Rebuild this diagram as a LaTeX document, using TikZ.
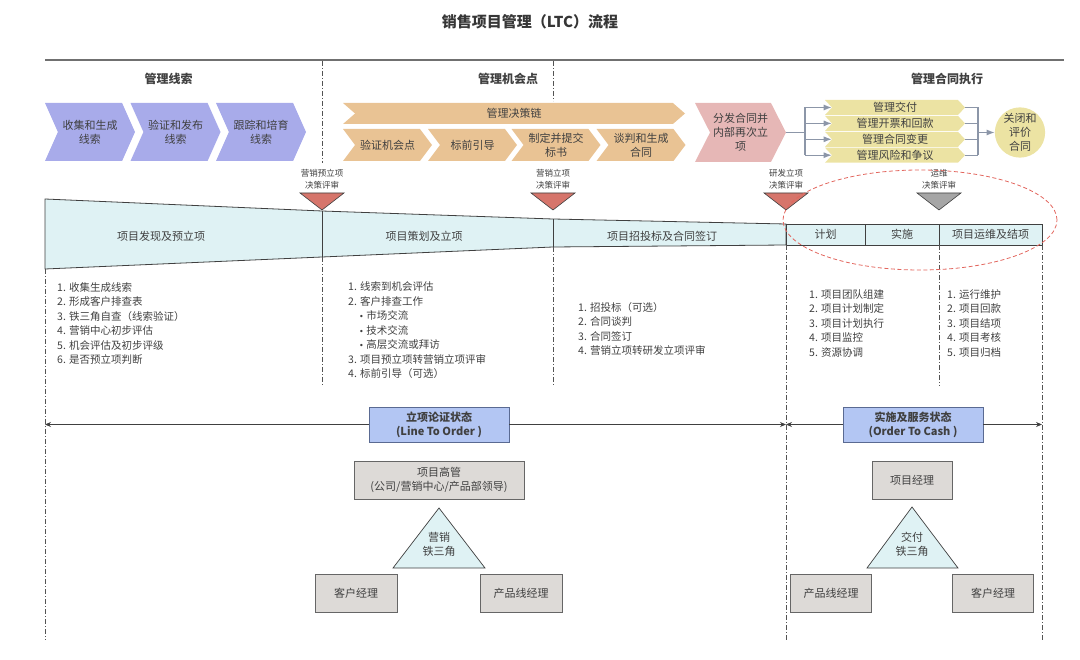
\documentclass[tikz,border=0pt]{standalone}
\usepackage{fontspec}
\setmainfont{Noto Sans CJK SC}
\newfontfamily\dotfont{DejaVu Sans}
\usepackage{tikz}
\usetikzlibrary{positioning, arrows.meta, shapes.symbols}
\definecolor{txt}{HTML}{404040}
\definecolor{chblue}{HTML}{A8ABEA}
\definecolor{chtan}{HTML}{E9C394}
\definecolor{chpink}{HTML}{E6B7B6}
\definecolor{chyel}{HTML}{ECE3A3}
\definecolor{bandc}{HTML}{DFF2F4}
\definecolor{revred}{HTML}{D6756B}
\definecolor{revgray}{HTML}{A6A6A6}
\definecolor{stblue}{HTML}{B3C6F3}
\definecolor{stedge}{HTML}{5A6A92}
\definecolor{boxgray}{HTML}{DDDAD7}
\definecolor{linkc}{HTML}{8C96A8}
\definecolor{ringred}{HTML}{E2665E}
\newcommand{\itemdot}{\hspace*{11pt}{\dotfont\fontsize{8}{10}\selectfont •}\ }

\begin{document}
\begin{tikzpicture}[x=1pt, y=-1pt,
        every node/.style={font=\fontsize{11}{14}\selectfont, text=txt},
        chev/.style={signal, signal to=east, signal from=west, fill=#1, inner sep=0pt, align=center},
        ychev/.style={chev=chyel, minimum width=140pt, minimum height=15pt, signal pointer angle=94},
        head/.style={font=\bfseries\fontsize{12}{14}\selectfont},
        bandline/.style={draw=txt, line width=0.8pt},
        cell/.style={draw=txt, line width=0.8pt, fill=bandc, minimum height=21pt, outer sep=0pt, inner sep=0pt},
        revlbl/.style={font=\fontsize{8.5}{12.5}\selectfont, align=center, inner sep=0pt},
        revmark/.style={draw=txt, line width=0.6pt, fill=#1},
        sep/.style={draw=txt!90, line width=0.7pt, dash pattern=on 5pt off 2pt on 1pt off 2pt},
        list/.style={align=left, inner sep=0pt, anchor=north west, font=\fontsize{10.5}{14.5}\selectfont},
        link/.style={draw=linkc, line width=1.1pt},
        linkarr/.style={link, -{Latex[length=8pt, width=6pt]}},
        state/.style={draw=stedge, fill=stblue, line width=0.8pt, minimum width=140pt, minimum height=35pt, align=center, font=\bfseries\fontsize{11}{14}\selectfont},
        statearr/.style={draw=txt, line width=0.8pt, -{Stealth[length=6pt, width=5pt]}},
        role/.style={draw=txt!80, fill=boxgray, line width=0.8pt, minimum height=38pt, align=center},
        iron/.style={draw=txt, fill=bandc, line width=0.7pt},
        ironlbl/.style={align=center, inner sep=0pt}
    ]
    \useasboundingbox (0,0) rectangle (1080,660);
%
    \node[font=\bfseries\fontsize{15}{18}\selectfont, text=txt!85!black] (title) at (530,22) {销售项目管理（LTC）流程};
    \draw[draw=txt!75, line width=1.4pt] (45,60) -- (1064,60);
%
    \node[head] (hdlead) at (168.5,79) {管理线索};
    \node[head] (hdopp) at (508,79) {管理机会点};
    \node[head] (hdexec) at (947,79) {管理合同执行};
%
    \draw[sep] (322,61) -- (322,163);
    \draw[sep] (553,61) -- (553,101);
%
    \node[chev=chblue, minimum width=90pt, minimum height=58pt, signal pointer angle=132] (lead1) at (90,132) {收集和生成\\线索};
    \node[chev=chblue, minimum width=90pt, minimum height=58pt, signal pointer angle=132] (lead2) at (175.5,132) {验证和发布\\线索};
    \node[chev=chblue, minimum width=90pt, minimum height=58pt, signal pointer angle=132] (lead3) at (261,132) {跟踪和培育\\线索};
%
    \node[chev=chtan, minimum width=342pt, minimum height=21pt, signal pointer angle=82] (chain) at (514,113.5) {管理决策链};
    \node[chev=chtan, minimum width=89pt, minimum height=32pt, signal pointer angle=106] (opp1) at (387.5,145) {验证机会点};
    \node[chev=chtan, minimum width=89pt, minimum height=32pt, signal pointer angle=106] (opp2) at (472.5,145) {标前引导};
    \node[chev=chtan, minimum width=89pt, minimum height=32pt, signal pointer angle=106] (opp3) at (556,145) {制定并提交\\标书};
    \node[chev=chtan, minimum width=89pt, minimum height=32pt, signal pointer angle=106] (opp4) at (641,145) {谈判和生成\\合同};
%
    \node[chev=chpink, minimum width=91pt, minimum height=59pt, signal pointer angle=126] (handoff) at (740.5,132.5) {分发合同并\\内部再次立\\项};
    \node[ychev] (yel1) at (895,107.5) {管理交付};
    \node[ychev, below=0.5pt of yel1] (yel2) {管理开票和回款};
    \node[ychev, below=0.5pt of yel2] (yel3) {管理合同变更};
    \node[ychev, below=0.5pt of yel3] (yel4) {管理风险和争议};
    \node[circle, fill=chyel, minimum size=47pt, inner sep=0pt, align=center] (close) at (1020,132.5) {关闭和\\评价\\合同};
%
    \coordinate (fork) at (805,132.5);
    \coordinate (join) at (978,132.5);
    \draw[link] (handoff.east) -- (fork);
    \draw[link] (fork |- yel1) -- (fork |- yel4);
    \draw[linkarr] (fork |- yel1) -- (yel1.west);
    \draw[linkarr] (fork |- yel2) -- (yel2.west);
    \draw[linkarr] (fork |- yel3) -- (yel3.west);
    \draw[linkarr] (fork |- yel4) -- (yel4.west);
    \draw[link] (yel1.east) -- (join |- yel1);
    \draw[link] (yel2.east) -- (join |- yel2);
    \draw[link] (yel3.east) -- (join |- yel3);
    \draw[link] (yel4.east) -- (join |- yel4);
    \draw[link] (join |- yel1) -- (join |- yel4);
    \draw[linkarr] (join) -- (close);
%
    \node[revlbl] (rev1) at (322,179.5) {营销预立项\\决策评审};
    \node[revlbl] (rev2) at (553,179.5) {营销立项\\决策评审};
    \node[revlbl] (rev3) at (786,179.5) {研发立项\\决策评审};
    \node[revlbl] (rev4) at (939,179.5) {运维\\决策评审};
    \draw[revmark=revred] (300,193) -- (344,193) -- (322,210) -- cycle;
    \draw[revmark=revred] (531,193) -- (575,193) -- (553,210) -- cycle;
    \draw[revmark=revred] (764,193) -- (808,193) -- (786,210) -- cycle;
    \draw[revmark=revgray] (917,193) -- (961,193) -- (939,210) -- cycle;
%
    \draw[bandline, fill=bandc] (45,199) -- (322,211) -- (553,219) -- (786,224) -- (786,245) -- (553,247) -- (322,257) -- (45,269) -- cycle;
    \draw[bandline] (322,211) -- (322,257);
    \draw[bandline] (553,219) -- (553,247);
    \node (phase1) at (161,236) {项目发现及预立项};
    \node (phase2) at (424,236) {项目策划及立项};
    \node (phase3) at (662,236) {项目招投标及合同签订};
    \node[cell, minimum width=79pt, anchor=west] (plan) at (786,234.5) {计划};
    \node[cell, minimum width=74pt, right=0pt of plan] (build) {实施};
    \node[cell, minimum width=103pt, right=0pt of build] (runop) {项目运维及结项};
%
    \draw[sep] (45,269) -- (45,640);
    \draw[sep] (322,257) -- (322,386);
    \draw[sep] (553,247) -- (553,386);
    \draw[sep] (786,245) -- (786,640);
    \draw[sep] (939,245) -- (939,386);
    \draw[sep] (1042,245) -- (1042,640);
%
    \node[list] (todo1) at (57,282) {1. 收集生成线索\\2. 形成客户排查表\\3. 铁三角自查（线索验证）\\4. 营销中心初步评估\\5. 机会评估及初步评级\\6. 是否预立项判断};
    \node[list] (todo2) at (348,281.5) {1. 线索到机会评估\\2. 客户排查工作\\\itemdot 市场交流\\\itemdot 技术交流\\\itemdot 高层交流或拜访\\3. 项目预立项转营销立项评审\\4. 标前引导（可选）};
    \node[list] (todo3) at (578,302) {1. 招投标（可选）\\2. 合同谈判\\3. 合同签订\\4. 营销立项转研发立项评审};
    \node[list] (todo4) at (809,289) {1. 项目团队组建\\2. 项目计划制定\\3. 项目计划执行\\4. 项目监控\\5. 资源协调};
    \node[list] (todo5) at (947,289) {1. 运行维护\\2. 项目回款\\3. 项目结项\\4. 项目考核\\5. 项目归档};
%
    \node[state] (lto) at (439,424.5) {立项论证状态\\(Line To Order )};
    \node[state] (otc) at (913,424.5) {实施及服务状态\\(Order To Cash )};
    \coordinate (leftend) at (45,424.5);
    \coordinate (midend) at (786,424.5);
    \coordinate (rightend) at (1042,424.5);
    \draw[statearr] (lto) -- (leftend);
    \draw[statearr] (lto) -- (midend);
    \draw[statearr] (otc) -- (midend);
    \draw[statearr] (otc) -- (rightend);
%
    \node[role, minimum width=170pt] (boss) at (439,480) {项目高管\\(公司/营销中心/产品部领导)};
    \draw[iron] (439,508) -- (485,568) -- (393,568) -- cycle;
    \node[ironlbl] (salestri) at (439,544) {营销\\铁三角};
    \node[role, minimum width=82pt] (acct1) at (356,593) {客户经理};
    \node[role, minimum width=82pt] (prod1) at (521,593) {产品线经理};
%
    \node[role, minimum width=80pt] (pm) at (912,480) {项目经理};
    \draw[iron] (912,507) -- (958,568) -- (867,568) -- cycle;
    \node[ironlbl] (delitri) at (912,544) {交付\\铁三角};
    \node[role, minimum width=81pt] (prod2) at (831,593) {产品线经理};
    \node[role, minimum width=81pt] (acct2) at (993,593) {客户经理};
%
    \draw[draw=ringred, line width=0.8pt, dash pattern=on 4pt off 2.5pt] (920,220) ellipse [x radius=137pt, y radius=50pt];
%
\end{tikzpicture}
\end{document}
